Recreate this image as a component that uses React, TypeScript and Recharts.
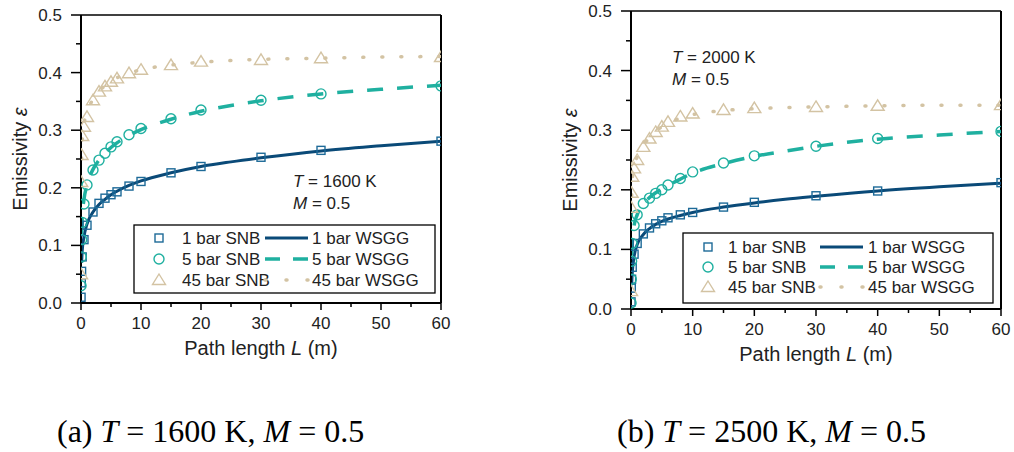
import { ComposedChart, Line, ReferenceLine, Scatter, XAxis, YAxis } from "recharts";

const FONT = '"Liberation Sans", Arial, sans-serif';
const SERIF = '"Liberation Serif", "Times New Roman", serif';

// path lengths (m)
const snbL = [0.01, 0.05, 0.1, 0.2, 0.5, 1, 2, 3, 4, 5, 6, 8, 10, 15, 20, 30, 40, 60];
const wsggL = [0.1, 0.2, 0.5, 1, 2, 3, 4, 5, 6, 8, 10, 15, 20, 25, 30, 40, 50, 60];

// (a) T = 1600 K
const snb1a = [0.01, 0.035, 0.055, 0.08, 0.11, 0.135, 0.158, 0.173, 0.182, 0.188, 0.193, 0.203, 0.211, 0.226, 0.237, 0.253, 0.265, 0.281];
const snb5a = [0.03, 0.08, 0.11, 0.14, 0.172, 0.205, 0.231, 0.248, 0.26, 0.271, 0.28, 0.292, 0.303, 0.32, 0.335, 0.352, 0.363, 0.377];
const snb45a = [0.05, 0.21, 0.257, 0.29, 0.306, 0.323, 0.352, 0.367, 0.376, 0.384, 0.39, 0.399, 0.405, 0.413, 0.419, 0.422, 0.425, 0.427];
const wsgg1a = [0.07, 0.09, 0.115, 0.137, 0.158, 0.171, 0.18, 0.188, 0.194, 0.204, 0.212, 0.226, 0.237, 0.245, 0.252, 0.264, 0.273, 0.281];
const wsgg5a = [0.12, 0.15, 0.18, 0.205, 0.232, 0.248, 0.26, 0.27, 0.278, 0.291, 0.301, 0.319, 0.333, 0.343, 0.351, 0.363, 0.371, 0.378];
const wsgg45a = [0.25, 0.28, 0.31, 0.33, 0.354, 0.368, 0.377, 0.385, 0.391, 0.399, 0.405, 0.413, 0.418, 0.421, 0.423, 0.425, 0.427, 0.428];

// (b) T = 2000 K
const snb1b = [0.012, 0.035, 0.05, 0.07, 0.092, 0.11, 0.126, 0.136, 0.143, 0.148, 0.153, 0.158, 0.162, 0.171, 0.179, 0.19, 0.198, 0.212];
const snb5b = [0.01, 0.05, 0.08, 0.11, 0.14, 0.158, 0.177, 0.186, 0.194, 0.2, 0.208, 0.219, 0.23, 0.245, 0.257, 0.273, 0.286, 0.298];
const snb45b = [0.03, 0.17, 0.195, 0.222, 0.236, 0.25, 0.272, 0.286, 0.297, 0.306, 0.314, 0.323, 0.328, 0.334, 0.337, 0.339, 0.341, 0.342];
const wsgg1b = [0.04, 0.06, 0.088, 0.108, 0.125, 0.135, 0.142, 0.147, 0.151, 0.157, 0.162, 0.171, 0.178, 0.184, 0.189, 0.198, 0.205, 0.211];
const wsgg5b = [0.09, 0.11, 0.14, 0.158, 0.176, 0.187, 0.195, 0.201, 0.207, 0.218, 0.228, 0.244, 0.256, 0.265, 0.273, 0.285, 0.292, 0.298];
const wsgg45b = [0.19, 0.215, 0.24, 0.255, 0.274, 0.288, 0.298, 0.306, 0.312, 0.32, 0.326, 0.333, 0.336, 0.338, 0.339, 0.341, 0.342, 0.342];

const xTicks = [0, 5, 10, 15, 20, 25, 30, 35, 40, 45, 50, 55, 60];
const yTicks = [0, 0.05, 0.1, 0.15, 0.2, 0.25, 0.3, 0.35, 0.4, 0.45, 0.5];
const legendLabels = ["1 bar SNB", "5 bar SNB", "45 bar SNB"];
const wsggLabels = ["1 bar WSGG", "5 bar WSGG", "45 bar WSGG"];

const LINE1 = "#0a4a78";
const MARK1 = "#1d6a98";
const C5 = "#1fb0a0";
const C45 = "#d3c3a3";

const pts = (xs: number[], ys: number[]) => xs.map((L, i) => ({ L, e: ys[i] }));

const square = (cx: number, cy: number, c: string) => (
  <rect x={cx - 4} y={cy - 4} width={8} height={8} fill="none" stroke={c} strokeWidth={1.4} />
);
const circle = (cx: number, cy: number, c: string) => (
  <circle cx={cx} cy={cy} r={5} fill="none" stroke={c} strokeWidth={1.4} />
);
const triangle = (cx: number, cy: number, c: string) => (
  <path d={`M${cx},${cy - 6}L${cx + 6.5},${cy + 4.5}L${cx - 6.5},${cy + 4.5}Z`} fill="none" stroke={c} strokeWidth={1.4} />
);
const markers = [square, circle, triangle];
const markColors = [MARK1, C5, C45];
const lineColors = [LINE1, C5, C45];
const dashes = [undefined, "16 14", "1 18"];
const caps: ("butt" | "round")[] = ["butt", "butt", "round"];

function XTick(p: any) {
  const v = p.payload.value;
  const major = v % 10 === 0;
  return (
    <g>
      <line x1={p.x} x2={p.x} y1={p.y} y2={p.y + (major ? 7 : 4)} stroke="#000" strokeWidth={1.5} />
      {major && (
        <text x={p.x} y={p.y + 26} textAnchor="middle" fontSize={17} fontFamily={FONT} fill="#222">
          {v}
        </text>
      )}
    </g>
  );
}

function YTick(p: any) {
  const v = p.payload.value;
  const major = Math.round(v * 100) % 10 === 0;
  return (
    <g>
      <line x1={p.x} x2={p.x - (major ? 10 : 5)} y1={p.y} y2={p.y} stroke="#000" strokeWidth={1.5} />
      {major && (
        <text x={p.x - 19} y={p.y + 6} textAnchor="end" fontSize={17} fontFamily={FONT} fill="#222">
          {v.toFixed(1)}
        </text>
      )}
    </g>
  );
}

function XTitle(p: any) {
  const vb = p.viewBox || { x: 0, y: 0, width: 0 };
  return (
    <text x={vb.x + vb.width / 2} y={vb.y + 52} textAnchor="middle" fontSize={20} fontFamily={FONT} fill="#222">
      Path length <tspan fontStyle="italic">L</tspan> (m)
    </text>
  );
}

function YTitle(p: any) {
  const vb = p.viewBox || { x: 0, y: 0, width: 0, height: 0 };
  const x = vb.x + vb.width - 54;
  const y = vb.y + vb.height / 2;
  return (
    <text x={x} y={y} transform={`rotate(-90, ${x}, ${y})`} textAnchor="middle" fontSize={20} fontFamily={FONT} fill="#222">
      Emissivity <tspan fontStyle="italic">ε</tspan>
    </text>
  );
}

function Panel(props: {
  snb: number[][];
  wsgg: number[][];
  width: number;
  height: number;
  top: number;
  right: number;
  xAxisHeight: number;
}) {
  const { snb, wsgg } = props;
  return (
    <ComposedChart width={props.width} height={props.height} margin={{ top: props.top, right: props.right, bottom: 0, left: 0 }}>
      <XAxis
        dataKey="L"
        type="number"
        domain={[0, 60]}
        ticks={xTicks}
        interval={0}
        tick={<XTick />}
        tickLine={false}
        tickSize={0}
        tickMargin={0}
        axisLine={{ stroke: "#000", strokeWidth: 2 }}
        height={props.xAxisHeight}
        label={<XTitle />}
        allowDataOverflow
      />
      <YAxis
        dataKey="e"
        type="number"
        domain={[0, 0.5]}
        ticks={yTicks}
        interval={0}
        tick={<YTick />}
        tickLine={false}
        tickSize={0}
        tickMargin={0}
        axisLine={{ stroke: "#000", strokeWidth: 2 }}
        width={81}
        label={<YTitle />}
        allowDataOverflow
      />
      <ReferenceLine y={0.5} stroke="#000" strokeWidth={1.5} />
      <ReferenceLine x={60} stroke="#000" strokeWidth={2} />
      {wsgg.map((ys, i) => (
        <Line
          key={`w${i}`}
          data={pts(wsggL, ys)}
          dataKey="e"
          type="monotone"
          stroke={lineColors[i]}
          strokeWidth={i === 0 ? 3 : 3.5}
          strokeDasharray={dashes[i]}
          strokeLinecap={caps[i]}
          dot={false}
          isAnimationActive={false}
        />
      ))}
      {snb.map((ys, i) => (
        <Scatter
          key={`s${i}`}
          data={pts(snbL, ys)}
          dataKey="e"
          shape={(s: any) => markers[i](s.cx, s.cy, markColors[i])}
          isAnimationActive={false}
        />
      ))}
    </ComposedChart>
  );
}

function LegendBox({ x, y, w, h, rowY, mx, tx, lx1, lx2, tx2 }: any) {
  return (
    <g fontFamily={FONT} fontSize={17} fill="#222">
      <rect x={x} y={y} width={w} height={h} fill="#fff" stroke="#000" strokeWidth={1.3} />
      {legendLabels.map((lab, i) => {
        const cy = y + rowY[i];
        return (
          <g key={lab}>
            {markers[i](x + mx, cy, markColors[i])}
            <text x={x + tx} y={cy + 6}>{lab}</text>
            <line
              x1={x + lx1}
              x2={x + lx2}
              y1={cy}
              y2={cy}
              stroke={lineColors[i]}
              strokeWidth={i === 0 ? 3 : 3.5}
              strokeDasharray={i === 1 ? "15 13" : i === 2 ? "1 20" : undefined}
              strokeLinecap={caps[i]}
            />
            <text x={x + tx2} y={cy + 6}>{wsggLabels[i]}</text>
          </g>
        );
      })}
    </g>
  );
}

export default function App() {
  return (
    <div style={{ position: "absolute", left: 0, top: 0, width: 1014, height: 452, background: "#fff", overflow: "hidden" }}>
      <div style={{ position: "absolute", left: 0, top: 0 }}>
        <Panel snb={[snb1a, snb5a, snb45a]} wsgg={[wsgg1a, wsgg5a, wsgg45a]} width={460} height={370} top={15} right={19} xAxisHeight={67} />
      </div>
      <div style={{ position: "absolute", left: 550, top: 0 }}>
        <Panel snb={[snb1b, snb5b, snb45b]} wsgg={[wsgg1b, wsgg5b, wsgg45b]} width={464} height={370} top={11} right={13} xAxisHeight={61} />
      </div>
      <svg width={1014} height={452} style={{ position: "absolute", left: 0, top: 0, pointerEvents: "none" }}>
        <LegendBox x={134} y={225} w={301} h={68} rowY={[13, 34, 55]} mx={25} tx={48} lx1={131} lx2={174} tx2={178} />
        <LegendBox x={683} y={233} w={310} h={70} rowY={[14, 34, 54]} mx={25} tx={45} lx1={137} lx2={180} tx2={185} />
        <g fontFamily={FONT} fontSize={17} fill="#222">
          <text x={293} y={187}><tspan fontStyle="italic">T</tspan> = 1600 K</text>
          <text x={293} y={209}><tspan fontStyle="italic">M</tspan> = 0.5</text>
          <text x={672} y={63}><tspan fontStyle="italic">T</tspan> = 2000 K</text>
          <text x={672} y={85}><tspan fontStyle="italic">M</tspan> = 0.5</text>
        </g>
        <g fontFamily={SERIF} fontSize={32} fill="#000">
          <text x={57} y={442}>(a) <tspan fontStyle="italic">T</tspan> = 1600 K, <tspan fontStyle="italic">M</tspan> = 0.5</text>
          <text x={617} y={442}>(b) <tspan fontStyle="italic">T</tspan> = 2500 K, <tspan fontStyle="italic">M</tspan> = 0.5</text>
        </g>
      </svg>
    </div>
  );
}
